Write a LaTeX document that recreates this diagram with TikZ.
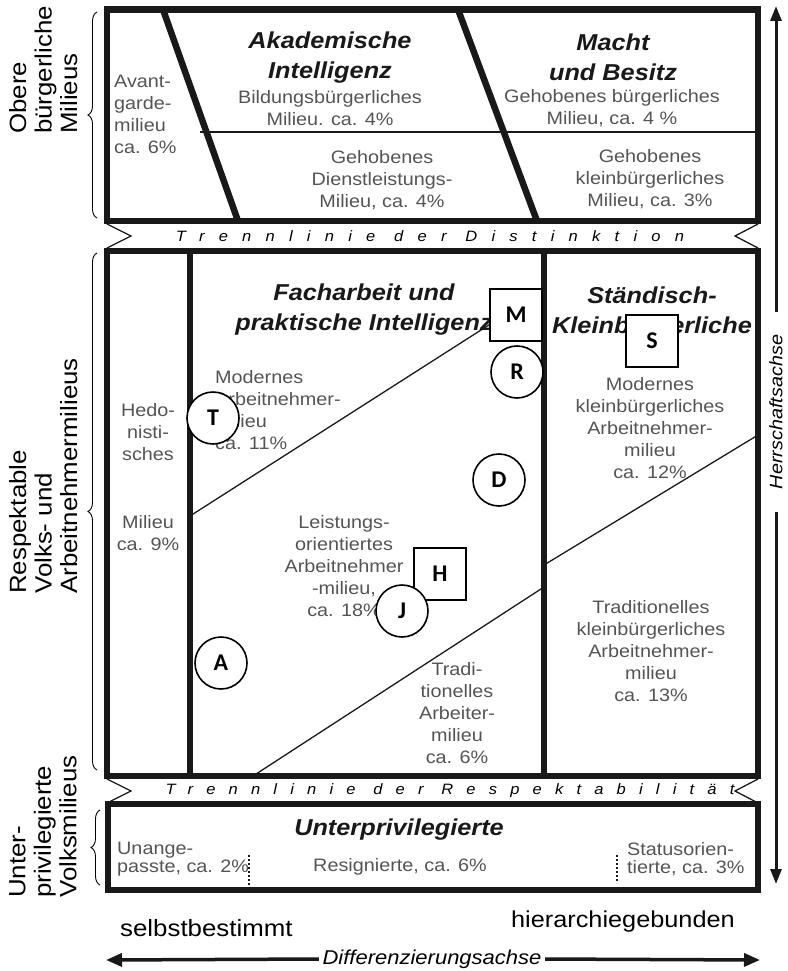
\documentclass[tikz,border=0pt]{standalone}
\usepackage{fontspec}
\setmainfont{Liberation Sans}[FakeStretch=1.1]
\newfontfamily\markfont{Carlito}
\usetikzlibrary{decorations.pathreplacing}
\usetikzlibrary{arrows.meta}
\definecolor{milieugrau}{gray}{0.33}
\definecolor{strich}{gray}{0.1}

\tikzset{
  dickstrich/.style={line width=6.5pt, draw=strich},
  duennstrich/.style={line width=1.3pt, draw=strich},
  milieutext/.style={text=milieugrau, inner sep=0pt, align=center, font=\fontsize{18}{22}\selectfont},
  titel/.style={text=strich, inner sep=0pt, align=center, font=\fontsize{23}{30}\selectfont\bfseries\itshape},
  trenntext/.style={inner sep=0pt, font=\fontsize{15}{15}\selectfont\itshape\addfontfeatures{LetterSpace=#1}},
  trenntext/.default=95,
  seitentext/.style={rotate=90, anchor=north west, inner sep=0pt, align=left, font=\fontsize{23.5}{25.5}\selectfont},
  klammer/.style={decorate, decoration={brace, amplitude=9pt}, line width=0.9pt},
  achse/.style={line width=3.5pt, draw=strich},
  punktlinie/.style={line width=2.4pt, draw=strich, dash pattern=on 2pt off 2pt},
  kreismarke/.style={circle, draw, line width=1.6pt, fill=white, minimum size=52pt, inner sep=0pt, font=\markfont\bfseries\fontsize{24}{24}\selectfont},
  quadratmarke/.style={rectangle, draw, line width=1.6pt, fill=white, minimum size=52pt, inner sep=0pt, font=\markfont\bfseries\fontsize{24}{24}\selectfont}
}

\begin{document}
\begin{tikzpicture}[x=1pt,y=-1pt]
\useasboundingbox (0,0) rectangle (787,971);

% obere buergerliche Milieus
\draw[duennstrich] (200,132) -- (758,132);
\draw[dickstrich] (107,9.5) rectangle (758,221);
\draw[dickstrich] (163,9.5) -- (238,221);
\draw[dickstrich] (458,9.5) -- (537,221);
\node[milieutext, align=left, anchor=west] (avant) at (114,114) {Avant-\\garde-\\milieu\\ca. 6\%};
\node[titel] (akademisch) at (330,58) {Akademische\\Intelligenz};
\node[milieutext] (bildung) at (330,108) {Bildungsbürgerliches\\Milieu. ca. 4\%};
\node[milieutext] (dienstleistung) at (382,180) {Gehobenes\\Dienstleistungs-\\Milieu, ca. 4\%};
\node[titel] (macht) at (613,57) {Macht\\und Besitz};
\node[milieutext] (gehoben) at (612,108) {Gehobenes bürgerliches\\Milieu, ca. 4 \%};
\node[milieutext] (kleingehoben) at (650,179) {Gehobenes\\kleinbürgerliches\\Milieu, ca. 3\%};

% Trennlinie der Distinktion
\draw[duennstrich] (107,224) -- (131,236) -- (107,248);
\draw[duennstrich] (758,224) -- (735,236) -- (758,248);
\node[trenntext] (distinktion) at (430,236) {Trennlinie der Distinktion};

% respektable Volks- und Arbeitnehmermilieus
\draw[duennstrich] (190,516) -- (492,323);
\draw[duennstrich] (253,776) -- (544,587);
\draw[duennstrich] (544,565) -- (758,435);
\draw[dickstrich] (107,251) rectangle (758,776);
\draw[dickstrich] (190,251) -- (190,776);
\draw[dickstrich] (544,251) -- (544,776);
\node[titel] (facharbeit) at (364,310) {Facharbeit und\\praktische Intelligenz};
\node[titel] (staendisch) at (652,313) {Ständisch-\\Kleinbürgerliche};
\node[milieutext] (hedo) at (148,432) {Hedo-\\nisti-\\sches};
\node[milieutext] (hedomilieu) at (148,533) {Milieu\\ca. 9\%};
\node[milieutext, align=left, anchor=west] (modern) at (215,410) {Modernes\\Arbeitnehmer-\\milieu\\ca. 11\%};
\node[milieutext] (leistung) at (344,566) {Leistungs-\\orientiertes\\Arbeitnehmer\\-milieu,\\ca. 18\%};
\node[milieutext] (tradarbeiter) at (457,713) {Tradi-\\tionelles\\Arbeiter-\\milieu\\ca. 6\%};
\node[milieutext] (modklein) at (650,428) {Modernes\\kleinbürgerliches\\Arbeitnehmer-\\milieu\\ca. 12\%};
\node[milieutext] (tradklein) at (651,651) {Traditionelles\\kleinbürgerliches\\Arbeitnehmer-\\milieu\\ca. 13\%};

% Trennlinie der Respektabilitaet
\draw[duennstrich] (107,779) -- (131,791) -- (107,803);
\draw[duennstrich] (758,779) -- (735,791) -- (758,803);
\node[trenntext=88] (respekt) at (450,791) {Trennlinie der Respektabilität};

% unterprivilegierte Volksmilieus
\draw[dickstrich] (108,804) rectangle (758,890);
\draw[punktlinie] (249,855) -- (249,885);
\draw[punktlinie] (617,855) -- (617,883);
\node[titel] (unterpriv) at (399,830) {Unterprivilegierte};
\node[milieutext, align=left, anchor=west, font=\fontsize{18}{18.5}\selectfont] (unangepasst) at (117,859) {Unange-\\passte, ca. 2\%};
\node[milieutext] (resigniert) at (400,867) {Resignierte, ca. 6\%};
\node[milieutext, align=left, anchor=west, font=\fontsize{18}{18.5}\selectfont] (statusorient) at (627,859) {Statusorien-\\tierte, ca. 3\%};

% Beschriftung links mit Klammern
\draw[klammer] (97,218) -- (97,12);
\draw[klammer] (97,770) -- (97,253);
\draw[klammer] (100,885) -- (100,810);
\node[seitentext] (obere) at (9,134) {Obere\\bürgerliche\\Milieus};
\node[seitentext] (respektabel) at (9,594) {Respektable\\Volks- und\\Arbeitnehmermilieus};
\node[seitentext] (unterseite) at (9,898) {Unter-\\privilegierte\\Volksmilieus};

% Herrschaftsachse
\node[rotate=90, inner sep=0pt, outer sep=0pt, minimum width=200pt, font=\fontsize{18}{18}\selectfont\itshape] (herrschaft) at (776,412) {Herrschaftsachse};
\coordinate (oben) at (776,6);
\coordinate (unten) at (776,884);
\draw[achse, line width=3pt, -{Triangle[length=15pt,width=11pt]}] (herrschaft.east) -- (oben);
\draw[achse, line width=3pt, -{Triangle[length=15pt,width=11pt]}] (herrschaft.west) -- (unten);

% Differenzierungsachse
\node[anchor=base west, inner sep=0pt, font=\fontsize{23.5}{23.5}\selectfont] (selbst) at (120,936) {selbstbestimmt};
\node[anchor=base east, inner sep=0pt, font=\fontsize{23}{23}\selectfont] (hierarchie) at (735,927) {hierarchiegebunden};
\node[inner sep=0pt, minimum width=226pt, font=\fontsize{20}{20}\selectfont\itshape] (differenz) at (432,959) {Differenzierungsachse};
\coordinate (links) at (106,960);
\coordinate (rechts) at (760,960);
\draw[achse, -{Triangle[length=16pt,width=13pt]}] (differenz.west) -- (links);
\draw[achse, -{Triangle[length=16pt,width=13pt]}] (differenz.east) -- (rechts);

% Marken
\node[kreismarke] (T) at (213,418) {T};
\node[kreismarke] (R) at (517,372) {R};
\node[quadratmarke] (M) at (516,315) {M};
\node[quadratmarke] (S) at (652,341) {S};
\node[kreismarke] (D) at (499,480) {D};
\node[quadratmarke] (H) at (440,574) {H};
\node[kreismarke] (J) at (402,611) {J};
\node[kreismarke] (A) at (221,663) {A};
\end{tikzpicture}
\end{document}
